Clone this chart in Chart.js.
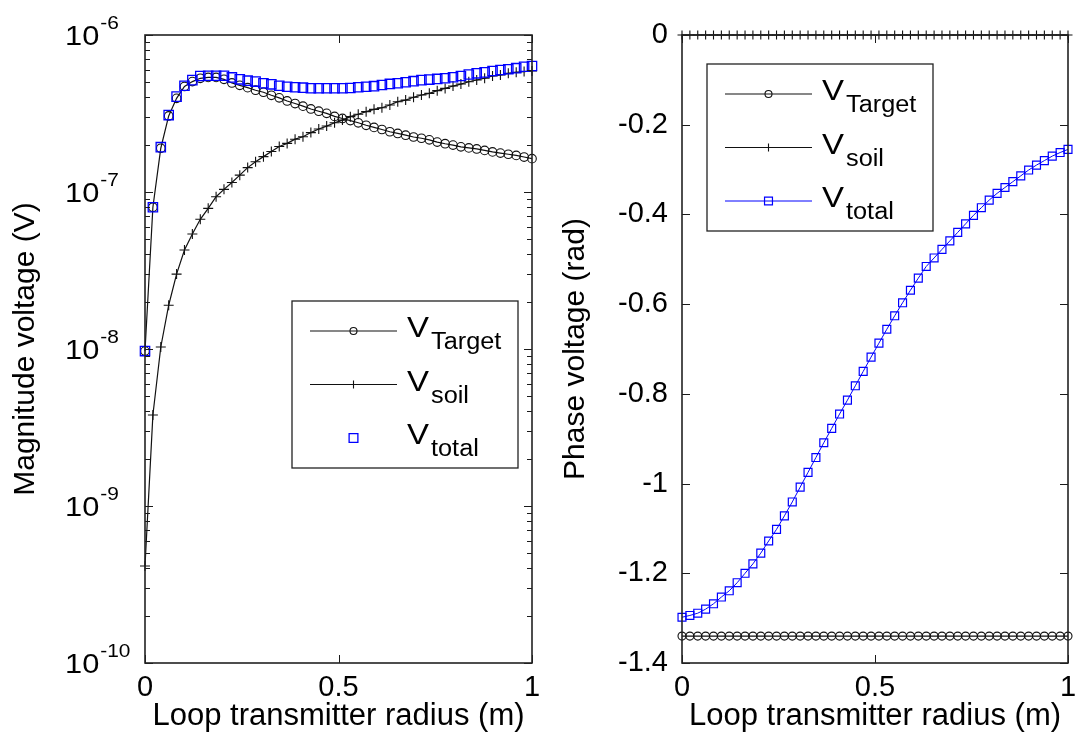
<!DOCTYPE html>
<html>
<head>
<meta charset="utf-8">
<title>Loop transmitter response</title>
<script src="https://cdn.jsdelivr.net/npm/chart.js@4.4.1/dist/chart.umd.min.js"></script>
<style>
  html, body { margin: 0; padding: 0; background: #fff; }
  body { width: 1083px; height: 738px; position: relative; overflow: hidden; }
  canvas { position: absolute; top: 0; }
  #magChart { left: 0; }
  #phaseChart { left: 540px; }
</style>
</head>
<body>
<canvas id="magChart" width="540" height="738"></canvas>
<canvas id="phaseChart" width="543" height="738"></canvas>
<script>
// Loop transmitter radius (m), 50 samples
const radius = [
  0, 0.0204, 0.0408, 0.0612, 0.0816, 0.1020, 0.1224, 0.1429, 0.1633, 0.1837,
  0.2041, 0.2245, 0.2449, 0.2653, 0.2857, 0.3061, 0.3265, 0.3469, 0.3673, 0.3878,
  0.4082, 0.4286, 0.4490, 0.4694, 0.4898, 0.5102, 0.5306, 0.5510, 0.5714, 0.5918,
  0.6122, 0.6327, 0.6531, 0.6735, 0.6939, 0.7143, 0.7347, 0.7551, 0.7755, 0.7959,
  0.8163, 0.8367, 0.8571, 0.8776, 0.8980, 0.9184, 0.9388, 0.9592, 0.9796, 1
];

// |V| in volts
const magTarget = [
  9.7e-9, 8.0e-8, 1.9e-7, 3.05e-7, 3.95e-7, 4.7e-7, 5.05e-7, 5.3e-7, 5.37e-7, 5.37e-7,
  5.22e-7, 4.95e-7, 4.78e-7, 4.62e-7, 4.45e-7, 4.32e-7, 4.13e-7, 3.98e-7, 3.8e-7, 3.66e-7,
  3.52e-7, 3.38e-7, 3.27e-7, 3.17e-7, 3.03e-7, 2.94e-7, 2.85e-7, 2.76e-7, 2.66e-7, 2.58e-7,
  2.5e-7, 2.42e-7, 2.36e-7, 2.3e-7, 2.24e-7, 2.2e-7, 2.15e-7, 2.08e-7, 2.03e-7, 1.99e-7,
  1.94e-7, 1.91e-7, 1.88e-7, 1.84e-7, 1.8e-7, 1.77e-7, 1.74e-7, 1.71e-7, 1.67e-7, 1.63e-7
];
const magSoil = [
  4.15e-10, 3.8e-9, 1.03e-8, 1.9e-8, 3.0e-8, 4.27e-8, 5.4e-8, 6.7e-8, 7.87e-8, 9.33e-8,
  1.04e-7, 1.15e-7, 1.28e-7, 1.43e-7, 1.56e-7, 1.68e-7, 1.81e-7, 1.95e-7, 2.04e-7, 2.17e-7,
  2.25e-7, 2.39e-7, 2.52e-7, 2.63e-7, 2.76e-7, 2.87e-7, 3.02e-7, 3.13e-7, 3.25e-7, 3.36e-7,
  3.44e-7, 3.58e-7, 3.76e-7, 3.85e-7, 4.01e-7, 4.15e-7, 4.25e-7, 4.42e-7, 4.57e-7, 4.73e-7,
  4.87e-7, 5.04e-7, 5.17e-7, 5.3e-7, 5.48e-7, 5.56e-7, 5.7e-7, 5.79e-7, 5.85e-7, 5.9e-7
];
const magTotal = [
  9.7e-9, 8.0e-8, 1.93e-7, 3.09e-7, 4.05e-7, 4.75e-7, 5.16e-7, 5.48e-7, 5.5e-7, 5.5e-7,
  5.5e-7, 5.37e-7, 5.22e-7, 5.12e-7, 5.05e-7, 4.93e-7, 4.85e-7, 4.75e-7, 4.68e-7, 4.65e-7,
  4.62e-7, 4.58e-7, 4.58e-7, 4.58e-7, 4.58e-7, 4.58e-7, 4.6e-7, 4.65e-7, 4.68e-7, 4.72e-7,
  4.8e-7, 4.88e-7, 4.93e-7, 5.0e-7, 5.08e-7, 5.16e-7, 5.2e-7, 5.25e-7, 5.3e-7, 5.38e-7,
  5.48e-7, 5.6e-7, 5.7e-7, 5.78e-7, 5.9e-7, 5.98e-7, 6.05e-7, 6.15e-7, 6.28e-7, 6.35e-7
];

// phase in radians
const phaseTarget = [
  -1.34, -1.34, -1.34, -1.34, -1.34, -1.34, -1.34, -1.34, -1.34, -1.34,
  -1.34, -1.34, -1.34, -1.34, -1.34, -1.34, -1.34, -1.34, -1.34, -1.34,
  -1.34, -1.34, -1.34, -1.34, -1.34, -1.34, -1.34, -1.34, -1.34, -1.34,
  -1.34, -1.34, -1.34, -1.34, -1.34, -1.34, -1.34, -1.34, -1.34, -1.34,
  -1.34, -1.34, -1.34, -1.34, -1.34, -1.34, -1.34, -1.34, -1.34, -1.34
];
const phaseSoil = [
  0, 0, 0, 0, 0, 0, 0, 0, 0, 0,
  0, 0, 0, 0, 0, 0, 0, 0, 0, 0,
  0, 0, 0, 0, 0, 0, 0, 0, 0, 0,
  0, 0, 0, 0, 0, 0, 0, 0, 0, 0,
  0, 0, 0, 0, 0, 0, 0, 0, 0, 0
];
const phaseTotal = [
  -1.298, -1.294, -1.289, -1.28, -1.268, -1.253, -1.239, -1.221, -1.2, -1.179,
  -1.155, -1.128, -1.102, -1.072, -1.041, -1.008, -0.975, -0.942, -0.909, -0.877,
  -0.845, -0.814, -0.782, -0.75, -0.718, -0.687, -0.656, -0.626, -0.597, -0.569,
  -0.542, -0.516, -0.497, -0.478, -0.459, -0.44, -0.421, -0.402, -0.385, -0.368,
  -0.353, -0.34, -0.327, -0.314, -0.301, -0.29, -0.28, -0.27, -0.262, -0.255
];

const seriesNames = ['Target', 'soil', 'total'];
const radiusTicks = [0, 0.5, 1];
const magDecades = [-10, -9, -8, -7, -6];
const phaseTicks = [0, -0.2, -0.4, -0.6, -0.8, -1, -1.2, -1.4];

const FONT = '"Liberation Sans", Arial, Helvetica, sans-serif';
const TEXT_STRETCH = 1.1;   // exported figure text is a bit wide
const NONE = 'rgba(0,0,0,0)';

Chart.defaults.font.family = FONT;
Chart.defaults.color = '#000';

const pts = ys => radius.map((r, i) => ({ x: r, y: ys[i] }));

// text drawn a little wider than the font, like the rest of the figure
function wideText(ctx, txt, x, y, size) {
  ctx.save();
  ctx.font = size + 'px ' + FONT;
  ctx.textAlign = 'left';
  ctx.textBaseline = 'alphabetic';
  ctx.fillStyle = '#000';
  ctx.translate(x, y);
  ctx.scale(TEXT_STRETCH, 1);
  ctx.fillText(txt, 0, 0);
  const w = ctx.measureText(txt).width * TEXT_STRETCH;
  ctx.restore();
  return w;
}

// box frame with inward ticks on all four sides
const frameTicks = {
  id: 'frameTicks',
  afterDraw(chart, args, opts) {
    const { ctx, chartArea: a } = chart;
    const xs = chart.scales.x, ys = chart.scales.y;
    ctx.save();
    ctx.strokeStyle = '#1a1a1a';
    ctx.lineWidth = 1;
    ctx.beginPath();
    const tickX = (v, len) => {
      const p = Math.round(xs.getPixelForValue(v)) + 0.5;
      ctx.moveTo(p, a.bottom); ctx.lineTo(p, a.bottom - len);
      ctx.moveTo(p, a.top); ctx.lineTo(p, a.top + len);
    };
    const tickY = (v, len) => {
      const p = Math.round(ys.getPixelForValue(v)) + 0.5;
      ctx.moveTo(a.left, p); ctx.lineTo(a.left + len, p);
      ctx.moveTo(a.right, p); ctx.lineTo(a.right - len, p);
    };
    opts.xMajor.forEach(v => tickX(v, 8));
    opts.yMajor.forEach(v => tickY(v, 8));
    (opts.yMinor || []).forEach(v => tickY(v, 5));
    ctx.stroke();
    ctx.lineWidth = 1.6;
    ctx.strokeStyle = '#222';
    ctx.strokeRect(a.left, a.top, a.width, a.height);
    ctx.restore();
  }
};

// "10^n" labels for the log axis
const powerLabels = {
  id: 'powerLabels',
  afterDraw(chart, args, opts) {
    if (!opts.decades) return;
    const { ctx, chartArea: a } = chart;
    const ys = chart.scales.y;
    opts.decades.forEach(d => {
      const p = ys.getPixelForValue(Math.pow(10, d));
      const x0 = a.left - 80;
      const w = wideText(ctx, '10', x0, p + 10, 28);
      wideText(ctx, String(d), x0 + w + 1, p - 6, 19);
    });
  }
};

// legend with subscripted names
const subLegend = {
  id: 'subLegend',
  afterDraw(chart, args, opts) {
    const { ctx } = chart;
    const bx = opts.left, by = opts.top, bw = 226, bh = 167;
    ctx.save();
    ctx.fillStyle = '#fff';
    ctx.fillRect(bx, by, bw, bh);
    ctx.strokeStyle = '#222';
    ctx.lineWidth = 1.3;
    ctx.strokeRect(bx, by, bw, bh);
    chart.data.datasets.forEach((ds, i) => {
      const y = by + 30 + i * 53.5;
      if (ds.showLine !== false) {
        ctx.beginPath();
        ctx.strokeStyle = ds.borderColor;
        ctx.lineWidth = ds.borderWidth;
        ctx.moveTo(bx + 18, y);
        ctx.lineTo(bx + 105, y);
        ctx.stroke();
      }
      ctx.strokeStyle = ds.pointBorderColor;
      ctx.fillStyle = NONE;
      ctx.lineWidth = ds.pointBorderWidth;
      Chart.helpers.drawPoint(ctx, {
        pointStyle: ds.pointStyle, rotation: 0,
        radius: ds.legendRadius, borderWidth: ds.pointBorderWidth
      }, bx + 61.5, y);
      const w = wideText(ctx, 'V', bx + 115, y + 6, 30);
      wideText(ctx, seriesNames[i], bx + 115 + w + 2, y + 18, 23);
    });
    ctx.restore();
  }
};

function xAxis() {
  return {
    type: 'linear', min: 0, max: 1,
    grid: { display: false, drawTicks: false },
    border: { display: false },
    ticks: {
      stepSize: 0.5, autoSkip: false, padding: 8,
      font: { size: 29 },
      callback: v => String(Math.round(v * 10) / 10)
    },
    title: {
      display: true, text: 'Loop transmitter radius (m)',
      font: { size: 31 }, padding: { top: 0, bottom: 3 }
    },
    // keep end labels from pulling the plot area in
    afterFit: s => { s.height = 75; s.paddingLeft = 0; s.paddingRight = 0; }
  };
}

const lineSet = (ys, style, r, lr, extra) => Object.assign({
  data: pts(ys),
  borderColor: '#111', borderWidth: 1.2,
  pointStyle: style, pointRadius: r, legendRadius: lr,
  pointBorderColor: '#111', pointBorderWidth: 1.1,
  pointBackgroundColor: NONE,
  tension: 0, clip: false
}, extra);

// magnitude, log scale
new Chart(document.getElementById('magChart'), {
  type: 'line',
  data: {
    datasets: [
      lineSet(magTarget, 'circle', 4.3, 3.5, { order: 1 }),
      lineSet(magSoil, 'cross', 5, 4, { order: 2 }),
      lineSet(magTotal, 'rect', 6.6, 6.2, {
        order: 0, showLine: false, borderColor: '#0000ff',
        pointBorderColor: '#0000ff', pointBorderWidth: 1.3
      })
    ]
  },
  options: {
    responsive: false, animation: false, devicePixelRatio: 1,
    layout: { padding: { left: 0, right: 8, top: 35, bottom: 0 } },
    scales: {
      x: xAxis(),
      y: {
        type: 'logarithmic', min: 1e-10, max: 1e-6,
        grid: { display: false, drawTicks: false },
        border: { display: false },
        ticks: { display: false },
        title: {
          display: true, text: 'Magnitude voltage (V)',
          font: { size: 30 }, padding: { top: 8, bottom: 0 }
        },
        afterFit: s => { s.width = 145; }
      }
    },
    plugins: {
      legend: { display: false },
      tooltip: { enabled: false },
      frameTicks: {
        xMajor: radiusTicks,
        yMajor: magDecades.map(d => Math.pow(10, d)),
        yMinor: magDecades.slice(0, -1).flatMap(d =>
          [2, 3, 4, 5, 6, 7, 8, 9].map(k => k * Math.pow(10, d)))
      },
      powerLabels: { decades: magDecades },
      subLegend: { left: 292, top: 301 }
    }
  },
  plugins: [frameTicks, powerLabels, subLegend]
});

// phase, linear scale
new Chart(document.getElementById('phaseChart'), {
  type: 'line',
  data: {
    datasets: [
      lineSet(phaseTarget, 'circle', 4, 3.5, { order: 1 }),
      lineSet(phaseSoil, 'cross', 4.5, 4, { order: 2 }),
      lineSet(phaseTotal, 'rect', 5.6, 5.6, {
        order: 0, borderColor: '#0000ff', borderWidth: 1,
        pointBorderColor: '#0000ff', pointBorderWidth: 1.2
      })
    ]
  },
  options: {
    responsive: false, animation: false, devicePixelRatio: 1,
    layout: { padding: { left: 0, right: 15, top: 35, bottom: 0 } },
    scales: {
      x: xAxis(),
      y: {
        type: 'linear', min: -1.4, max: 0,
        grid: { display: false, drawTicks: false },
        border: { display: false },
        ticks: {
          stepSize: 0.2, autoSkip: false, padding: 14,
          font: { size: 29 },
          callback: v => String(Math.round(v * 10) / 10)
        },
        title: {
          display: true, text: 'Phase voltage (rad)',
          font: { size: 30 }, padding: { top: 18, bottom: 0 }
        },
        afterFit: s => { s.width = 142; }
      }
    },
    plugins: {
      legend: { display: false },
      tooltip: { enabled: false },
      frameTicks: { xMajor: radiusTicks, yMajor: phaseTicks },
      subLegend: { left: 167, top: 64 }
    }
  },
  plugins: [frameTicks, powerLabels, subLegend]
});
</script>
</body>
</html>
